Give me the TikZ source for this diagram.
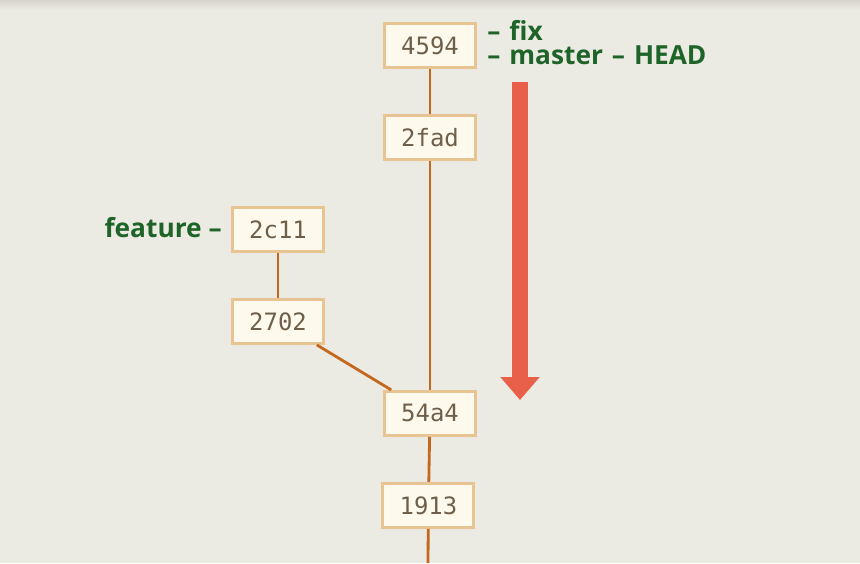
\documentclass[tikz,border=0pt]{standalone}
\usepackage{fontspec}
\setmainfont{Open Sans}
\setmonofont{DejaVu Sans Mono}
\usetikzlibrary{arrows.meta}
\definecolor{paper}{RGB}{236,235,227}
\definecolor{paperedge}{RGB}{214,212,204}
\definecolor{cream}{RGB}{254,249,237}
\definecolor{sand}{RGB}{232,196,146}
\definecolor{umber}{RGB}{110,95,75}
\definecolor{rust}{RGB}{196,104,32}
\definecolor{leaf}{RGB}{30,100,40}
\definecolor{tomato}{RGB}{232,96,74}
\newcommand{\sha}[1]{\texttt{#1}}
\newcommand{\branch}[1]{\textcolor{leaf}{#1}}

\begin{document}
\begin{tikzpicture}[
  commit/.style={draw=sand, fill=cream, line width=2.1pt, minimum width=2.275cm,
    minimum height=1.1cm, inner sep=0pt, text=umber,
    font=\ttfamily\fontsize{17}{17}\selectfont},
  link/.style={draw=rust, line width=2pt},
  refname/.style={inner sep=0pt, font=\bfseries\fontsize{18.7}{21}\selectfont},
  push/.style={draw=tomato, line width=0.4cm, -{Triangle[width=0.95cm,length=0.575cm]}}]

\useasboundingbox (0,0) rectangle (21.5,14.075);
\fill[paper] (0,0) rectangle (21.5,14.075);
\shade[top color=paperedge, bottom color=paper] (0,13.825) rectangle (21.5,14.075);

\node[commit] (c4594) at (10.75,12.94) {\sha{4594}};
\node[commit] (c2fad) at (10.75,10.64) {\sha{2fad}};
\node[commit] (c2c11) at (6.95,8.34)   {\sha{2c11}};
\node[commit] (c2702) at (6.95,6.04)   {\sha{2702}};
\node[commit] (c54a4) at (10.75,3.74)  {\sha{54a4}};
\node[commit] (c1913) at (10.71,1.44)  {\sha{1913}};
\coordinate (tail) at (10.70,0);

\draw[link] (c4594) -- (c2fad);
\draw[link] (c2fad) -- (c54a4);
\draw[link] (c2c11) -- (c2702);
\draw[link] (c2702) -- (c54a4);
\draw[link] (c54a4) -- (c1913);
\draw[link] (c1913) -- (tail);

\node[refname, anchor=base west] (fixRef) at (12.175,13.05) {\branch{–\hspace{0.08em} fix}};
\node[refname, anchor=base west] (masterRef) at (12.175,12.45) {\branch{–\hspace{0.08em} master \hspace{0.08em}–\hspace{0.08em} HEAD}};
\node[refname, anchor=base east] (featureRef) at (5.55,8.15) {\branch{feature –}};

\coordinate (pushTop) at (13.0,12.025);
\coordinate (pushTip) at (13.0,4.075);
\draw[push] (pushTop) -- (pushTip);

\end{tikzpicture}
\end{document}
